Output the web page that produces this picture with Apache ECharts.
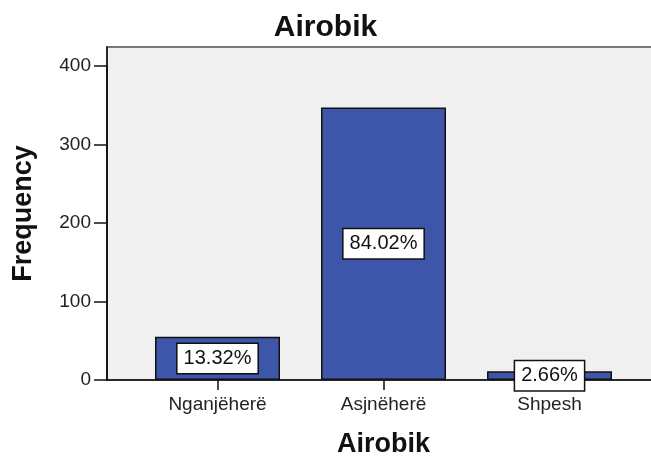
<!DOCTYPE html>
<html>
<head>
<meta charset="utf-8">
<script src="https://cdn.jsdelivr.net/npm/echarts@6/dist/echarts.min.js"></script>
<style>
  html, body { margin: 0; padding: 0; background: #fff; }
  #chart { width: 651px; height: 457px; }
</style>
</head>
<body>
<div id="chart"></div>
<script>
// Airobik frequencies
var categories = ['Nganjëherë', 'Asjnëherë', 'Shpesh'];
var frequencies = [55, 347, 11];
var percentLabels = ['13.32%', '84.02%', '2.66%'];

var font = 'Liberation Sans, Arial, sans-serif';
var chart = echarts.init(document.getElementById('chart'));

chart.setOption({
  backgroundColor: '#fff',
  animation: false,
  title: {
    text: 'Airobik',
    left: 'center',
    top: 8,
    textStyle: { fontFamily: font, fontSize: 30, fontWeight: 'bold', color: '#111' }
  },
  grid: [
    // frame + grey background
    { left: 107, right: -4, top: 47, bottom: 77, show: true, outerBoundsMode: 'none',
      backgroundColor: '#f0f0f0', borderColor: '#777', borderWidth: 2 },
    // the bars sit inside with SPSS-like side margins
    { left: 134.5, right: 18.5, top: 66, bottom: 77, outerBoundsMode: 'none' }
  ],
  xAxis: [
    {
      gridIndex: 0, type: 'value', min: 0, max: 1,
      axisLine: { show: true, lineStyle: { color: '#111', width: 1.5 } },
      axisTick: { show: false }, axisLabel: { show: false }, splitLine: { show: false }
    },
    {
      gridIndex: 1, type: 'category', data: categories,
      name: 'Airobik', nameLocation: 'middle', nameGap: 51,
      nameTextStyle: { fontFamily: font, fontSize: 27, fontWeight: 'bold', color: '#111' },
      axisLine: { show: false },
      axisTick: { show: true, alignWithLabel: true, length: 10, lineStyle: { color: '#111', width: 1.5 } },
      axisLabel: { fontFamily: font, fontSize: 19, color: '#222', margin: 15 }
    }
  ],
  yAxis: [
    {
      gridIndex: 0, type: 'value', min: 0, max: 1,
      name: 'Frequency', nameLocation: 'middle', nameGap: 70, nameRotate: 90,
      nameTextStyle: { fontFamily: font, fontSize: 27, fontWeight: 'bold', color: '#111' },
      axisLine: { show: true, lineStyle: { color: '#111', width: 1.5 } },
      axisTick: { show: false }, axisLabel: { show: false }, splitLine: { show: false }
    },
    {
      gridIndex: 1, type: 'value', min: 0, max: 400, interval: 100,
      offset: 27.5,
      axisLine: { show: true, lineStyle: { color: '#111', width: 1.5 } },
      axisTick: { show: true, length: 13, lineStyle: { color: '#111', width: 1.5 } },
      axisLabel: { fontFamily: font, fontSize: 19, color: '#222', margin: 16 },
      splitLine: { show: false }
    }
  ],
  series: [
    {
      type: 'bar',
      xAxisIndex: 1,
      yAxisIndex: 1,
      data: frequencies,
      barWidth: 125,
      itemStyle: { color: '#3d56a9', borderColor: '#111', borderWidth: 1.5 },
      label: {
        show: true,
        position: 'inside',
        formatter: function (p) { return percentLabels[p.dataIndex]; },
        fontFamily: font,
        fontSize: 20,
        color: '#111',
        backgroundColor: '#fff',
        borderColor: '#111',
        borderWidth: 1.5,
        padding: [5, 6, 4, 6]
      }
    }
  ]
});
</script>
</body>
</html>
